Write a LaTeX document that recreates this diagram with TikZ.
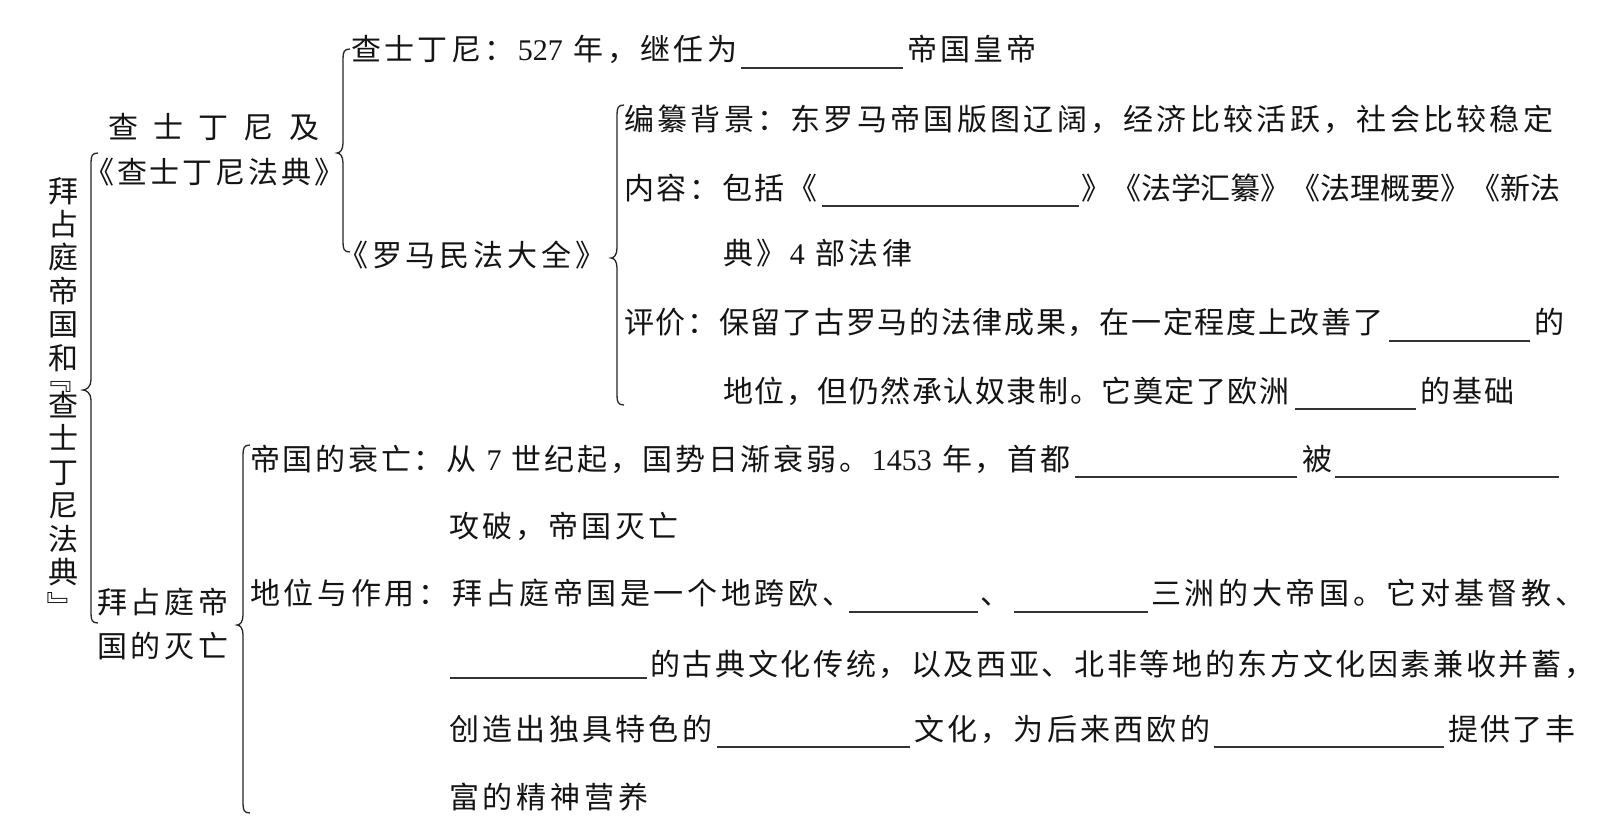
\documentclass[tikz,border=0pt]{standalone}
\usepackage{fontspec}
\setmainfont{Noto Sans CJK SC}
\newfontfamily\dig{Liberation Serif}
\makeatletter
\newcommand\jz[2]{\hbox to #1pt{\@tfor\jz@t:=#2\do{\jz@t\hskip 0pt plus 1fil minus 1fil\relax}\unskip}}
\makeatother
\tikzset{
  txt/.style={anchor=west, inner sep=0pt, text height=26.4pt, text depth=3.6pt, font=\fontsize{30}{36}\selectfont, text=black!92},
  vt/.style={anchor=center, inner sep=0pt, text height=26.4pt, text depth=3.6pt, font=\fontsize{30}{36}\selectfont, text=black!92},
  ul/.style={line width=1.3pt, draw=black!80},
  brc/.style={line width=1.3pt, draw=black!85},
}
\newcommand\cbr[5]{%
\draw[brc] (#1+7,#2) .. controls (#1+1,#2) and (#1,#2+3) .. (#1,#2+10) -- (#1,#4-10) .. controls (#1,#4-3) and (#3+3,#4) .. (#3,#4) .. controls (#3+3,#4) and (#1,#4+3) .. (#1,#4+10) -- (#1,#5-10) .. controls (#1,#5-3) and (#1+1,#5) .. (#1+7,#5);}
\begin{document}
\begin{tikzpicture}[x=1pt,y=-1pt]
\fill[white] (0,0) rectangle (1599,833);
\useasboundingbox (0,0) rectangle (1599,833);
% vertical title
\foreach \c/\yy [count=\i] in {拜/191,占/224,庭/257.5,帝/291,国/324.5,和/358,查/405,士/438,丁/472,尼/505,法/539,典/572}
  \node[vt] (v\i) at (63,\yy) {\c};
\node[vt, rotate=-90] (vo) at (56.6,378.3) {『};
\node[vt, rotate=-90] (vc) at (62.3,606.7) {』};
% braces
\cbr{91}{153}{83}{390}{623}
\cbr{343}{49}{337}{153}{252}
\cbr{617}{105}{611}{258}{405}
\cbr{243}{445}{237}{625}{813}
% level 1
\node[txt] (j1) at (108,127) {\jz{211}{查士丁尼及}};
\node[txt] (j2) at (84,172) {\jz{260}{《查士丁尼法典》}};
\node[txt] (f1) at (97,602) {\jz{131}{拜占庭帝}};
\node[txt] (f2) at (97,646) {\jz{131}{国的灭亡}};
% row A
\node[txt] (a1) at (351,49) {\jz{386}{查士丁尼：{{\dig 527\ }}年，继任为}};
\draw[ul] (741,68) -- (903,68);
\node[txt] (a2) at (907,49) {\jz{129}{帝国皇帝}};
\node[txt] (b3) at (338,255) {\jz{267}{《罗马民法大全》}};
% brace 3
\node[txt] (c1) at (624,119) {\jz{929}{编纂背景：东罗马帝国版图辽阔，经济比较活跃，社会比较稳定}};
\node[txt] (c2a) at (624,188) {\jz{193}{内容：包括《}};
\draw[ul] (822,206) -- (1079,206);
\node[txt] (c2b) at (1081,188) {\jz{479}{》《法学汇纂》《法理概要》《新法}};
\node[txt] (c3) at (723,253) {\jz{189}{典》{{\dig 4\ }}部法律}};
\node[txt] (c4a) at (624,322) {\jz{759}{评价：保留了古罗马的法律成果，在一定程度上改善了}};
\draw[ul] (1389,341) -- (1530,341);
\node[txt] (c4b) at (1534,322) {的};
\node[txt] (c5a) at (723,391) {\jz{566}{地位，但仍然承认奴隶制。它奠定了欧洲}};
\draw[ul] (1295,409) -- (1416,409);
\node[txt] (c5b) at (1420,391) {\jz{94}{的基础}};
% brace 4
\node[txt] (d1a) at (250,459) {\jz{820}{帝国的衰亡：从{{\dig\ 7\ }}世纪起，国势日渐衰弱。{{\dig 1453\ }}年，首都}};
\draw[ul] (1075,477) -- (1297,477);
\node[txt] (d1b) at (1302,459) {被};
\draw[ul] (1335,477) -- (1559,477);
\node[txt] (d2) at (449,526) {\jz{229}{攻破，帝国灭亡}};
\node[txt] (d3a) at (250,593) {\jz{602}{地位与作用：拜占庭帝国是一个地跨欧、}};
\draw[ul] (849,612) -- (978,612);
\node[txt] (d3b) at (980,593) {、};
\draw[ul] (1014,612) -- (1148,612);
\node[txt] (d3c) at (1151,593) {\jz{434}{三洲的大帝国。它对基督教、}};
\draw[ul] (450,678) -- (647,678);
\node[txt] (d4) at (650,664) {\jz{944}{的古典文化传统，以及西亚、北非等地的东方文化因素兼收并蓄，}};
\node[txt] (d5a) at (449,729) {\jz{263}{创造出独具特色的}};
\draw[ul] (717,747) -- (910,747);
\node[txt] (d5b) at (914,729) {\jz{296}{文化，为后来西欧的}};
\draw[ul] (1214,747) -- (1444,747);
\node[txt] (d5c) at (1448,729) {\jz{127}{提供了丰}};
\node[txt] (d6) at (449,797) {\jz{199}{富的精神营养}};
\end{tikzpicture}
\end{document}
